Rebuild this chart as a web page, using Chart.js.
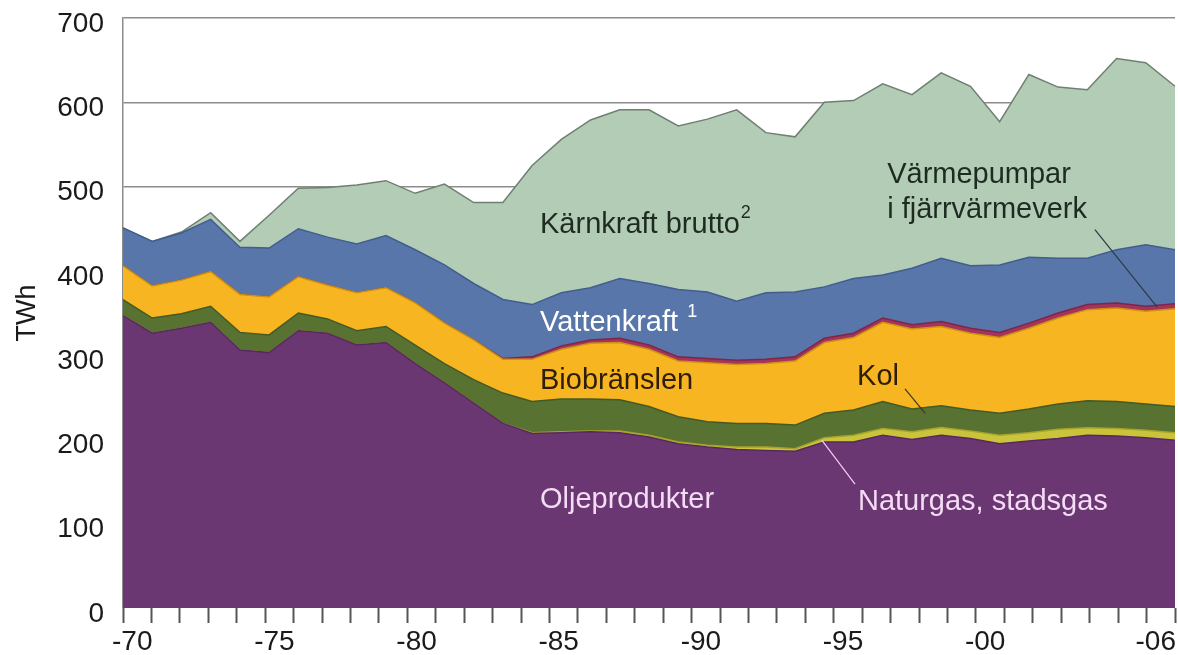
<!DOCTYPE html>
<html>
<head>
<meta charset="utf-8">
<script src="https://cdn.jsdelivr.net/npm/chart.js@4/dist/chart.umd.min.js"></script>
<style>
  body { margin: 0; background: #fff; }
  canvas { display: block; }
</style>
</head>
<body>
<canvas id="myChart" width="1178" height="655"></canvas>
<script>
// år 1970-2006, TWh per energislag
var years = [1970,1971,1972,1973,1974,1975,1976,1977,1978,1979,1980,1981,1982,1983,1984,1985,1986,1987,1988,1989,
             1990,1991,1992,1993,1994,1995,1996,1997,1998,1999,2000,2001,2002,2003,2004,2005,2006];

var olje      = [347,326,332,339,306,303,329,326,312,315,290,267,243,219,207,208,209,208,203,195,191,188,187,186,197,197,205,200,205,201,195,198,201,205,204,202,199];
var naturgas  = [0,0,0,0,0,0,0,0,0,0,0,0,0,0,1,1,1,2,2,2,2,3,4,3,5,8,8,9,9,9,10,10,11,9,9,9,9];
var kol       = [19,18,17,19,21,21,21,17,17,19,22,23,28,36,37,39,38,37,34,30,28,28,28,28,29,30,32,27,26,25,26,28,30,32,32,31,31];
var bio       = [40,38,40,41,45,45,43,40,45,46,50,48,47,40,50,59,66,68,68,66,70,70,71,76,84,86,94,95,94,91,90,96,102,108,111,110,116];
var varmepump = [0,0,0,0,0,0,0,0,0,0,0,0,0,1,3,4,4,5,5,5,5,5,5,5,5,5,5,5,6,6,6,6,6,6,6,6,6];
var vatten    = [45,53,56,62,56,58,57,57,58,62,63,69,67,70,62,63,62,71,73,80,79,70,79,77,61,65,51,67,75,74,80,78,65,55,63,73,64];
var karn      = [0,0,1,8,7,39,48,59,70,65,67,96,96,115,165,182,199,200,206,194,205,227,190,184,219,211,227,206,220,213,170,217,203,200,227,216,194];

// etiketter på x-axeln: intervallindex -> text
var tickYears  = [0, 5, 10, 15, 20, 25, 30, 36];
var tickLabels = ['-70', '-75', '-80', '-85', '-90', '-95', '-00', '-06'];

var FONT = "'Liberation Sans', Arial, Helvetica, sans-serif";

// texter i diagrammet, position i (år, TWh)
var notes = [
    { text: 'Kärnkraft brutto', sup: '2', year: 1984.27, value: 455, color: '#1e2b21' },
    { text: 'Värmepumpar', year: 1996.15, value: 514, color: '#1e2b21' },
    { text: 'i fjärrvärmeverk', year: 1996.15, value: 472, color: '#1e2b21' },
    { text: 'Vattenkraft ', sup: '1', year: 1984.27, value: 338, color: '#ffffff' },
    { text: 'Biobränslen', year: 1984.27, value: 269, color: '#2e1d08' },
    { text: 'Kol', year: 1995.12, value: 274, color: '#2e1d08' },
    { text: 'Oljeprodukter', year: 1984.27, value: 128, color: '#f4dcf4' },
    { text: 'Naturgas, stadsgas', year: 1995.15, value: 126, color: '#f4dcf4' }
];
var leaders = [
    { from: [2003.26, 449], to: [2005.39, 357], color: '#2c3a46' },
    { from: [1996.76, 260], to: [1997.45, 231], color: '#3a3a20' },
    { from: [1993.92, 199], to: [1995.05, 147], color: '#f0d0f0' }
];

function layer(label, data, fill, bg, border) {
    return {
        label: label,
        data: data,
        fill: fill,
        backgroundColor: bg,
        borderColor: border,
        borderWidth: 1.5,
        pointRadius: 0,
        tension: 0,
        xAxisID: 'x',
        yAxisID: 'y'
    };
}

var notesPlugin = {
    id: 'notes',
    afterDraw: function (chart) {
        var ctx = chart.ctx;
        var xs = chart.scales.x, ys = chart.scales.y;
        ctx.save();
        leaders.forEach(function (l) {
            ctx.strokeStyle = l.color;
            ctx.lineWidth = 1.2;
            ctx.beginPath();
            ctx.moveTo(xs.getPixelForValue(l.from[0] - 1970), ys.getPixelForValue(l.from[1]));
            ctx.lineTo(xs.getPixelForValue(l.to[0] - 1970), ys.getPixelForValue(l.to[1]));
            ctx.stroke();
        });
        ctx.textBaseline = 'middle';
        ctx.textAlign = 'left';
        notes.forEach(function (n) {
            var px = xs.getPixelForValue(n.year - 1970);
            var py = ys.getPixelForValue(n.value);
            ctx.fillStyle = n.color;
            ctx.font = '29px ' + FONT;
            ctx.fillText(n.text, px, py);
            if (n.sup) {
                var w = ctx.measureText(n.text).width;
                ctx.font = '18px ' + FONT;
                ctx.fillText(n.sup, px + w + 1, py - 11);
            }
        });
        ctx.restore();
    }
};

var ctx = document.getElementById('myChart').getContext('2d');
var myChart = new Chart(ctx, {
    type: 'line',
    data: {
        labels: years,
        datasets: [
            layer('Oljeprodukter', olje, 'origin', '#6b3773', '#57295e'),
            layer('Naturgas, stadsgas', naturgas, '-1', '#c9c43b', '#a8a32a'),
            layer('Kol', kol, '-1', '#587232', '#445a26'),
            layer('Biobränslen', bio, '-1', '#f7b521', '#d0920f'),
            layer('Värmepumpar i fjärrvärmeverk', varmepump, '-1', '#a4345c', '#7f2546'),
            layer('Vattenkraft', vatten, '-1', '#5876aa', '#415e8f'),
            layer('Kärnkraft brutto', karn, '-1', '#b3ccb5', '#6f7f71')
        ]
    },
    options: {
        responsive: false,
        devicePixelRatio: 1,
        animation: false,
        layout: { padding: { top: 18, right: 3, left: 0, bottom: 0 } },
        plugins: {
            legend: { display: false },
            tooltip: { enabled: false }
        },
        scales: {
            x: {
                type: 'category',
                offset: false,
                display: false
            },
            xt: {
                type: 'linear',
                position: 'bottom',
                min: 0,
                max: 37,
                afterBuildTicks: function (scale) {
                    var t = [];
                    for (var i = 0; i <= 37; i++) {
                        t.push({ value: i });
                        if (i < 37) t.push({ value: i + 0.5 });
                    }
                    scale.ticks = t;
                },
                afterFit: function (scale) {
                    scale.height = 47;
                    scale.paddingLeft = 0;
                    scale.paddingRight = 0;
                },
                border: { display: false },
                grid: {
                    drawOnChartArea: false,
                    tickLength: 15,
                    tickWidth: 2,
                    tickColor: function (c) {
                        return (c.tick && c.tick.value % 1 === 0) ? '#555555' : 'rgba(0,0,0,0)';
                    }
                },
                ticks: {
                    autoSkip: false,
                    maxRotation: 0,
                    padding: 2,
                    labelOffset: -5,
                    color: '#1a1a1a',
                    font: { family: FONT, size: 28 },
                    callback: function (value) {
                        if (value % 1 === 0) return '';
                        var k = tickYears.indexOf(Math.floor(value));
                        return k >= 0 ? tickLabels[k] : '';
                    }
                }
            },
            y: {
                stacked: true,
                min: 0,
                max: 700,
                z: 1,
                afterFit: function (scale) {
                    scale.width = 123;
                    scale.paddingTop = 0;
                    scale.paddingBottom = 0;
                },
                border: { display: true, color: '#8c8c8c', width: 1.5 },
                grid: {
                    drawTicks: false,
                    lineWidth: 1.5,
                    color: function (c) {
                        return c.tick && c.tick.value === 0 ? 'rgba(0,0,0,0)' : 'rgba(25,25,25,0.5)';
                    }
                },
                ticks: {
                    stepSize: 100,
                    padding: 19,
                    labelOffset: 6,
                    color: '#1a1a1a',
                    font: { family: FONT, size: 28 }
                },
                title: {
                    display: true,
                    text: 'TWh',
                    color: '#1a1a1a',
                    padding: { top: 11, bottom: 0 },
                    font: { family: FONT, size: 27 }
                }
            }
        }
    },
    plugins: [notesPlugin]
});
</script>
</body>
</html>
